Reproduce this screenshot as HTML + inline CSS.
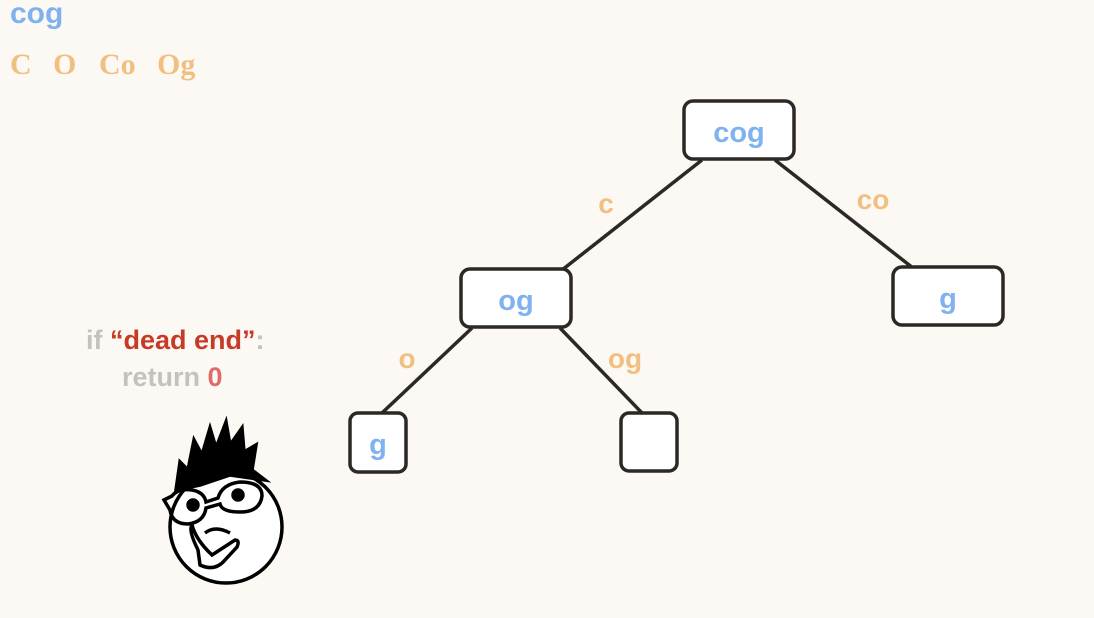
<!DOCTYPE html>
<html><head><style>
body{margin:0;width:1094px;height:618px;background:#fcf9f4;position:relative;overflow:hidden;font-family:"Liberation Sans",sans-serif}
.t{position:absolute;font-weight:bold;white-space:nowrap}
</style></head><body>
<svg width="1094" height="618" style="position:absolute;left:0;top:0">
<text x="10" y="23" font-family="Liberation Sans" font-weight="bold" font-size="30" fill="#80b2ef">cog</text>
<g font-family="Liberation Serif" font-weight="bold" font-size="30" fill="#f1bf80">
<text x="10" y="74">C</text><text x="53" y="74">O</text><text x="99" y="74">Co</text><text x="157" y="74">Og</text>
</g>
<g stroke="#2b2825" stroke-width="3.5" fill="none">
<line x1="702" y1="160" x2="562" y2="270"/>
<line x1="775" y1="160" x2="913" y2="268"/>
<line x1="472" y1="328" x2="382" y2="413"/>
<line x1="560" y1="328" x2="642" y2="413"/>
</g>
<g stroke="#2b2825" stroke-width="3.5" fill="#fff">
<rect x="684" y="101" width="110" height="58" rx="9"/>
<rect x="461" y="269" width="110" height="58" rx="9"/>
<rect x="893" y="267" width="110" height="58" rx="9"/>
<rect x="350" y="413" width="56" height="59" rx="8"/>
<rect x="621" y="413" width="56" height="58" rx="8"/>
</g>
<g font-family="Liberation Sans" font-weight="bold" text-anchor="middle">
<text x="739" y="142" font-size="29" fill="#80b2ef">cog</text>
<text x="516" y="310" font-size="29" fill="#80b2ef">og</text>
<text x="948" y="308" font-size="29" fill="#80b2ef">g</text>
<text x="378" y="454" font-size="29" fill="#80b2ef">g</text>
<text x="606" y="213" font-size="28" fill="#f1bf80">c</text>
<text x="873" y="209" font-size="28" fill="#f1bf80">co</text>
<text x="407" y="368" font-size="28" fill="#f1bf80">o</text>
<text x="625" y="368" font-size="28" fill="#f1bf80">og</text>
</g>
<!-- face -->
<g stroke="#000" stroke-width="3.5" fill="none">
<circle cx="226" cy="527" r="56" fill="#fff"/>
<path d="M176 490 L180 462 L188 470 L194 440 L202 455 L210 428 L216 448 L226 422 L230 445 L242 428 L244 452 L256 445 L252 470 L265 480 L230 475 L200 485 Z" fill="#000"/>
<path d="M164 500 L172 496 Q178 488 192 490 Q204 492 206 502 L218 498 Q222 484 240 482 Q262 482 262 496 Q260 512 240 512 Q222 512 220 504 L206 508 Q204 522 188 524 Q172 524 170 510 Z"/>
<circle cx="193" cy="505" r="5" fill="#000"/>
<circle cx="238" cy="495" r="5" fill="#000"/>
<path d="M205 533 Q215 525 230 533"/>
<path d="M198 550 Q188 530 192 525 Q196 540 212 555 L235 540 Q240 540 237 547 L225 560 Q215 572 200 565 Z"/>
</g>
<g font-family="Liberation Sans" font-weight="bold" font-size="27">
<text x="86" y="349" fill="#c4c2bf">if <tspan fill="#c73a25">“dead end”</tspan>:</text>
<text x="122" y="386" fill="#c4c2bf">return <tspan fill="#e06a6a">0</tspan></text>
</g>
</svg>
</body></html>
